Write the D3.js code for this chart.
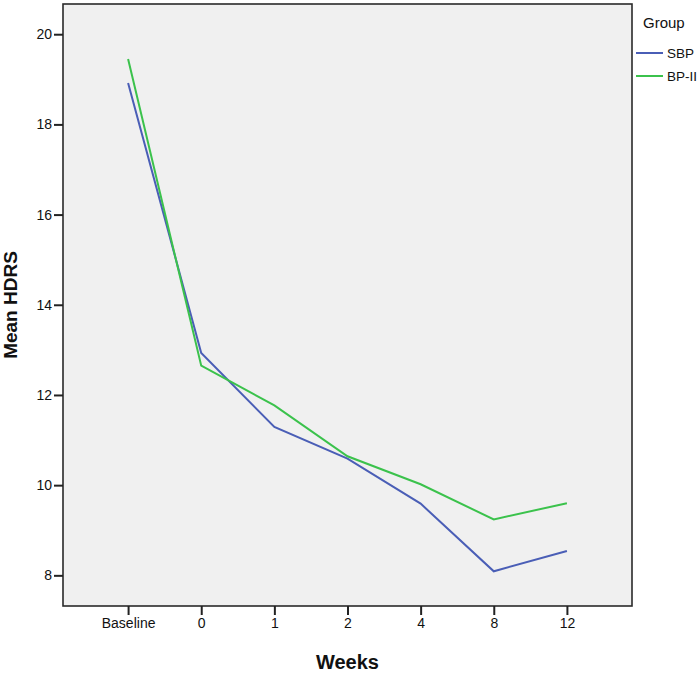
<!DOCTYPE html>
<html>
<head>
<meta charset="utf-8">
<script src="https://cdn.jsdelivr.net/npm/d3@7"></script>
<style>
  html, body { margin: 0; padding: 0; background: #fff; }
  svg { display: block; font-family: "Liberation Sans", Arial, sans-serif; }
</style>
</head>
<body>
<div id="chart"></div>
<script>
const categories = ["Baseline", "0", "1", "2", "4", "8", "12"];
const sbp = [18.92, 12.93, 11.29, 10.59, 9.59, 8.09, 8.54];
const bp2 = [19.45, 12.65, 11.77, 10.64, 10.02, 9.24, 9.60];
const seriesNames = ["SBP", "BP-II"];
const seriesColors = ["#4A5EB6", "#3BC24C"];
const yTicks = [8, 10, 12, 14, 16, 18, 20];

const W = 700, H = 673;
const plot = { left: 63, right: 632, top: 4, bottom: 606 };

const svg = d3.select("#chart").append("svg").attr("width", W).attr("height", H);

const x = d3.scalePoint().domain(categories).range([plot.left, plot.right]).padding(0.89);
const y = d3.scaleLinear().domain([7.32, 20.67]).range([plot.bottom, plot.top]);

svg.append("rect")
  .attr("x", plot.left).attr("y", plot.top)
  .attr("width", plot.right - plot.left).attr("height", plot.bottom - plot.top)
  .attr("fill", "#F0F0F0");

const series = [sbp, bp2];
const line = d3.line().x((d, i) => x(categories[i])).y(d => y(d));
series.forEach((s, k) => {
  svg.append("path").datum(s)
    .attr("d", line)
    .attr("fill", "none")
    .attr("stroke", seriesColors[k])
    .attr("stroke-width", 2);
});

svg.append("rect")
  .attr("x", plot.left).attr("y", plot.top)
  .attr("width", plot.right - plot.left).attr("height", plot.bottom - plot.top)
  .attr("fill", "none").attr("stroke", "#2a2a2a").attr("stroke-width", 1.6);

const xAxis = svg.append("g").attr("transform", `translate(0,${plot.bottom})`)
  .call(d3.axisBottom(x).tickSize(9).tickPadding(3).tickSizeOuter(0));
xAxis.select(".domain").remove();
xAxis.selectAll("line").attr("stroke", "#222").attr("stroke-width", 2);
xAxis.selectAll("text").attr("font-size", 14).attr("fill", "#111")
  .attr("font-family", "'Liberation Sans', Arial, sans-serif");

const yAxis = svg.append("g").attr("transform", `translate(${plot.left},0)`)
  .call(d3.axisLeft(y).tickValues(yTicks).tickSize(9).tickPadding(2).tickSizeOuter(0));
yAxis.select(".domain").remove();
yAxis.selectAll("line").attr("stroke", "#222").attr("stroke-width", 2);
yAxis.selectAll("text").attr("font-size", 14).attr("fill", "#111")
  .attr("font-family", "'Liberation Sans', Arial, sans-serif");

svg.append("text")
  .attr("x", (plot.left + plot.right) / 2).attr("y", 669)
  .attr("text-anchor", "middle")
  .attr("font-size", 20).attr("font-weight", "bold").attr("fill", "#111")
  .text("Weeks");

svg.append("text")
  .attr("transform", `translate(17,${(plot.top + plot.bottom) / 2}) rotate(-90)`)
  .attr("text-anchor", "middle")
  .attr("font-size", 19).attr("font-weight", "bold").attr("fill", "#111")
  .text("Mean HDRS");

// Legend
svg.append("text").attr("x", 643).attr("y", 28)
  .attr("font-size", 15).attr("fill", "#111").text("Group");
seriesNames.forEach((n, k) => {
  const yy = 53 + k * 23;
  svg.append("line").attr("x1", 636).attr("x2", 663).attr("y1", yy).attr("y2", yy)
    .attr("stroke", seriesColors[k]).attr("stroke-width", 2);
  svg.append("text").attr("x", 667).attr("y", yy).attr("dy", "0.35em")
    .attr("font-size", 13.5).attr("fill", "#111").text(n);
});
</script>
</body>
</html>
